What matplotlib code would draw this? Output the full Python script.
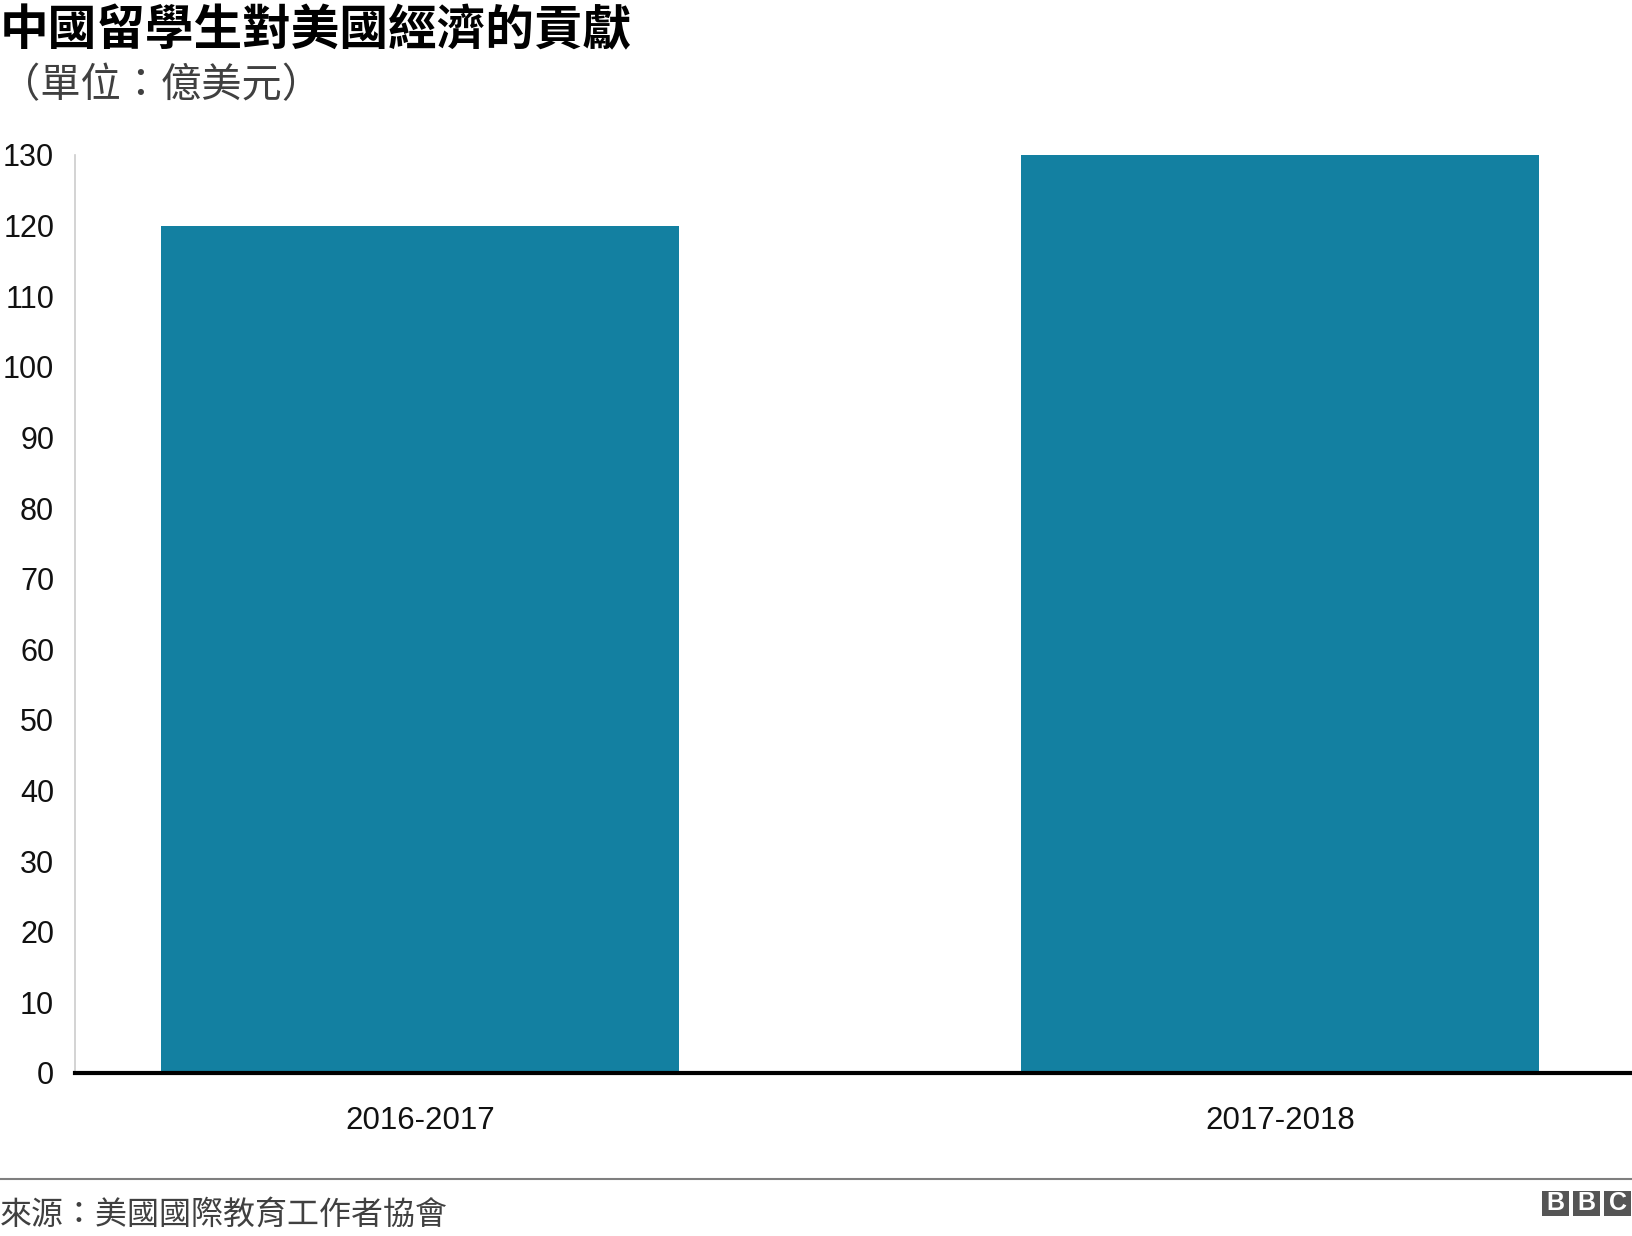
import matplotlib
matplotlib.use("Agg")
import matplotlib.pyplot as plt
from matplotlib.patches import Rectangle
from matplotlib.lines import Line2D

# data
categories = ["2016-2017", "2017-2018"]
values = [120, 130]
y_ticks = list(range(0, 131, 10))

title = "中國留學生對美國經濟的貢獻"
subtitle = "（單位：億美元）"
source = "來源：美國國際教育工作者協會"

W, H = 1632, 1236
CJK = ["Noto Sans CJK TC", "DejaVu Sans"]
LATIN = ["Liberation Sans", "Noto Sans CJK TC", "DejaVu Sans"]

fig = plt.figure(figsize=(W / 100, H / 100), dpi=100)


def fx(px):
    return px / W


def fy(py):
    return 1 - py / H


ax = fig.add_axes([fx(75), fy(1073), fx(1632) - fx(75), fy(155) - fy(1073)])
x = list(range(len(categories)))
ax.bar(x, values, width=0.602, color="#1380A1", zorder=2)

ax.set_ylim(0, 130)
ax.set_xlim(-0.401, 1.409)
ax.set_yticks(y_ticks)
ax.set_yticklabels([str(v) for v in y_ticks], family=LATIN, fontsize=22)
ax.set_xticks(x)
ax.set_xticklabels(categories, family=LATIN, fontsize=22.5)
ax.tick_params(axis="y", length=0, pad=15, colors="#111111")
ax.tick_params(axis="x", length=0, pad=24, colors="#111111")

for s in ["top", "right"]:
    ax.spines[s].set_visible(False)
ax.spines["left"].set_color("#cccccc")
ax.spines["left"].set_linewidth(1.2)
ax.spines["bottom"].set_color("black")
ax.spines["bottom"].set_linewidth(3)
ax.spines["bottom"].set_zorder(3)

# titles
fig.text(fx(0), fy(31), title, family=CJK, fontsize=35, fontweight="bold",
         ha="left", va="center", color="#000000")
fig.text(fx(0), fy(86), subtitle, family=CJK, fontsize=29,
         ha="left", va="center", color="#404040")

# footer
fig.add_artist(Line2D([0, 1], [fy(1179), fy(1179)], color="#7f7f7f", linewidth=1.5,
                      transform=fig.transFigure))
fig.text(fx(0), fy(1215), source, family=CJK, fontsize=23,
         ha="left", va="center", color="#404040")

# BBC blocks
for i, letter in enumerate("BBC"):
    left = 1542 + i * 31
    fig.add_artist(Rectangle((fx(left), fy(1216)), fx(27), fy(1191) - fy(1216),
                             transform=fig.transFigure, facecolor="#555555",
                             edgecolor="none"))
    fig.text(fx(left + 13.5), fy(1203.5), letter, family=LATIN, fontsize=18,
             fontweight="bold", color="white", ha="center", va="center")

fig.savefig("out.png", dpi=100)
